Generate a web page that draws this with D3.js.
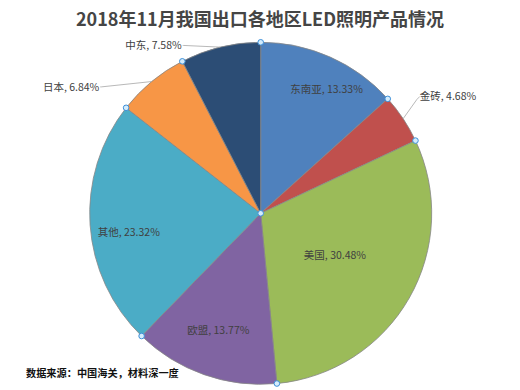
<!DOCTYPE html>
<html>
<head>
<meta charset="utf-8">
<script src="https://cdn.jsdelivr.net/npm/d3@7.9.0/dist/d3.min.js"></script>
<style>
  html, body { margin: 0; padding: 0; background: #fff; }
  svg { display: block; font-family: "Noto Sans CJK SC", "Noto Sans", sans-serif; }
</style>
</head>
<body>
<svg id="chart" width="520" height="390"></svg>
<script>
// data (clockwise from 12 o'clock)
const regions = ['东南亚', '金砖', '美国', '欧盟', '其他', '日本', '中东'];
const shares = [13.33, 4.68, 30.48, 13.77, 23.32, 6.84, 7.58];
const sliceColors = ['#4f81bd', '#c0504d', '#9bbb59', '#8064a2', '#4bacc6', '#f79646', '#2c4d75'];

const titleText = '2018年11月我国出口各地区LED照明产品情况';
const sourceText = '数据来源：中国海关，材料深一度';

// label placement: radius as fraction of pie radius, angle nudge in degrees
const labelLayout = {
  '东南亚': { r: 0.82, da: 4, outside: false },
  '金砖':   { r: 1.13, da: -2.5, outside: true, anchor: 'start' },
  '美国':   { r: 0.50, da: 0, outside: false },
  '欧盟':   { r: 0.73, da: 0.5, outside: false },
  '其他':   { r: 0.78, da: -4.5, outside: false },
  '日本':   { r: 1.19, da: -12, outside: true, anchor: 'end' },
  '中东':   { r: 1.08, da: -11, outside: true, anchor: 'end' }
};

const width = 520, height = 390;
const cx = 260.7, cy = 213.3, radius = 171;

const svg = d3.select('#chart');

// title
svg.append('text')
  .attr('x', 260)
  .attr('y', 26)
  .attr('text-anchor', 'middle')
  .attr('font-size', 18)
  .attr('font-weight', 'bold')
  .attr('fill', '#454545')
  .text(titleText);

const data = regions.map((name, i) => ({ name, value: shares[i], color: sliceColors[i] }));

const pie = d3.pie().sort(null).value(d => d.value);
const arcs = pie(data);
const arcGen = d3.arc().innerRadius(0).outerRadius(radius);

const g = svg.append('g').attr('transform', `translate(${cx},${cy})`);

g.selectAll('path.slice')
  .data(arcs)
  .join('path')
  .attr('class', 'slice')
  .attr('d', arcGen)
  .attr('fill', d => d.data.color)
  .attr('stroke', '#868686')
  .attr('stroke-width', 0.8);

// polar helper: angle in radians measured clockwise from 12 o'clock
const polar = (a, r) => [r * Math.sin(a), -r * Math.cos(a)];

arcs.forEach(d => {
  const lay = labelLayout[d.data.name];
  const mid = (d.startAngle + d.endAngle) / 2;
  const a = mid + lay.da * Math.PI / 180;
  const [lx, ly] = polar(a, radius * lay.r);
  const label = `${d.data.name}, ${d.data.value.toFixed(2)}%`;

  if (lay.outside) {
    const [ex, ey] = polar(mid, radius);
    const tx = lay.anchor === 'start' ? lx + 3 : lx - 2;
    g.append('polyline')
      .attr('points', [[ex, ey], [lx, ly], [lx + (lay.anchor === 'start' ? 3 : -1), ly - (lay.anchor === 'start' ? 3 : 0)]].map(p => p.join(',')).join(' '))
      .attr('fill', 'none')
      .attr('stroke', '#a6a6a6')
      .attr('stroke-width', 0.8);
    g.append('text')
      .attr('x', tx)
      .attr('y', ly - (lay.anchor === 'start' ? 3 : 0))
      .attr('dy', '0.35em')
      .attr('text-anchor', lay.anchor)
      .attr('font-size', 10.5)
      .attr('fill', '#404040')
      .text(label);
  } else {
    g.append('text')
      .attr('x', lx)
      .attr('y', ly)
      .attr('dy', '0.35em')
      .attr('text-anchor', 'middle')
      .attr('font-size', 10.5)
      .attr('fill', '#404040')
      .text(label);
  }
});

// selection handles at slice boundaries and the centre
const handlePts = arcs.map(d => polar(d.startAngle, radius)).concat([[0, 0]]);
g.selectAll('circle.handle')
  .data(handlePts)
  .join('circle')
  .attr('class', 'handle')
  .attr('cx', d => d[0])
  .attr('cy', d => d[1])
  .attr('r', 2.8)
  .attr('fill', '#d4ecfc')
  .attr('stroke', '#3d8fd8')
  .attr('stroke-width', 1);

// source note
svg.append('text')
  .attr('x', 26)
  .attr('y', 373)
  .attr('dy', '0.35em')
  .attr('font-size', 10.2)
  .attr('font-weight', 'bold')
  .attr('fill', '#111')
  .text(sourceText);
</script>
</body>
</html>
